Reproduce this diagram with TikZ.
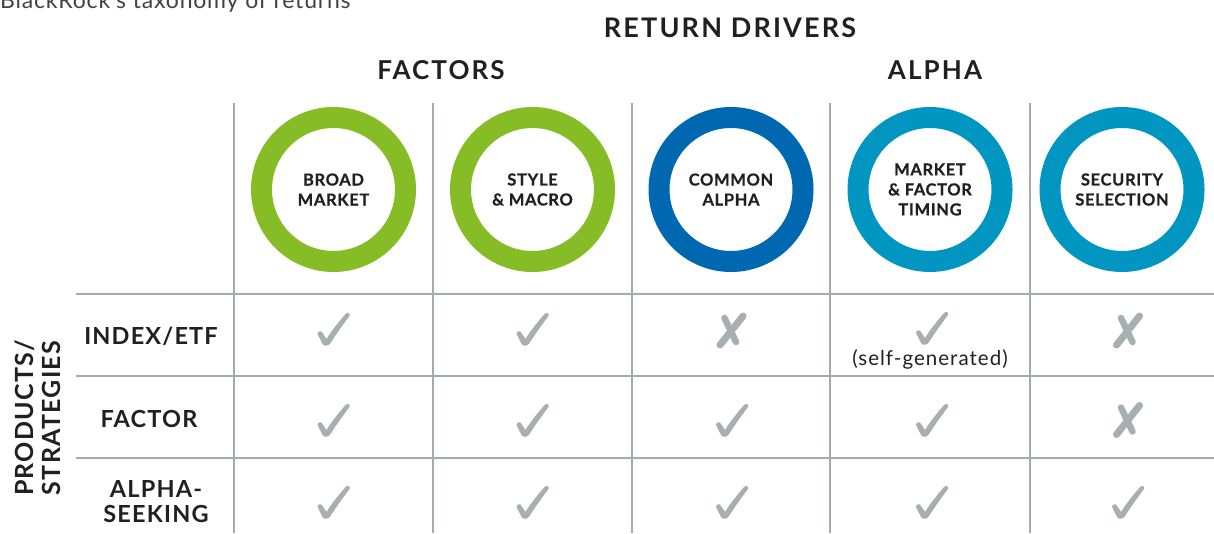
\documentclass[tikz,border=0pt]{standalone}
\usepackage{fontspec}
\setmainfont{Lato}
\definecolor{brgreen}{HTML}{86BC25}
\definecolor{brdblue}{HTML}{0067B1}
\definecolor{brlblue}{HTML}{0096C1}
\definecolor{ckgray}{HTML}{A8AFB3}
\definecolor{lngray}{HTML}{A5ABB0}
\definecolor{txt}{HTML}{231F20}
\tikzset{
  ring/.style={line width=21pt},
  grid/.style={draw=lngray, line width=1.1pt},
  head/.style={text=txt, font=\fontsize{26}{30}\selectfont\bfseries\addfontfeature{LetterSpace=8}, inner sep=0pt},
  circlab/.style={text=txt, font=\fontsize{16.5}{20}\selectfont\bfseries\addfontfeature{LetterSpace=4,FakeBold=0.6}, align=center, inner sep=0pt},
  rowlab/.style={text=txt, font=\fontsize{23.5}{25}\selectfont\bfseries\addfontfeature{LetterSpace=5}, align=center, inner sep=0pt},
  chk/.pic={\fill[ckgray] (-16,5) .. controls (-16,2) and (-12,1) .. (-11,4) -- (-7,10) .. controls (-1,0) and (7,-9) .. (12,-15) .. controls (14,-17) and (17,-16) .. (16,-13) .. controls (10,-5) and (2,6) .. (-3,14) .. controls (-5,17) and (-9,18) .. (-11,15) -- cycle;},
  crs/.pic={\draw[ckgray, line width=7pt, line cap=round] (-11.5,14.5) -- (11.5,-14.5);
            \draw[ckgray, line width=6.5pt, line cap=round] (-7,-12.5) -- (4.5,11.5);}
}
\begin{document}
\begin{tikzpicture}[x=1pt,y=-1pt]
\useasboundingbox (0,0) rectangle (1214,533);
% caption
\node[anchor=base west, inner sep=0pt, text=txt!85, font=\fontsize{23}{26}\selectfont\addfontfeature{LetterSpace=3.5}] (cap) at (0,8) {BlackRock's taxonomy of returns};
% headers
\node[head, font=\fontsize{27}{30}\selectfont\bfseries\addfontfeature{LetterSpace=8}] (rd) at (730,27.5) {RETURN DRIVERS};
\node[head] (fac) at (441,70.5) {FACTORS};
\node[head] (alp) at (935,70.5) {ALPHA};
% grid
\foreach \x in {234,433,632,830,1030} \draw[grid] (\x,103) -- (\x,533);
\foreach \y in {294,376,458} \draw[grid] (76,\y) -- (1214,\y);
% rings
\draw[ring, brgreen] (333.5,189.5) circle[radius=72];
\draw[ring, brgreen] (532.5,189.5) circle[radius=72];
\draw[ring, brdblue] (731,189.5) circle[radius=72];
\draw[ring, brlblue] (930,189.5) circle[radius=72];
\draw[ring, brlblue] (1122,189.5) circle[radius=72];
\node[circlab] (c1) at (333.5,189.5) {BROAD\\MARKET};
\node[circlab] (c2) at (532.5,189.5) {STYLE\\\& MACRO};
\node[circlab] (c3) at (731,189.5) {COMMON\\ALPHA};
\node[circlab] (c4) at (930,189.5) {MARKET\\\& FACTOR\\TIMING};
\node[circlab] (c5) at (1122,189.5) {SECURITY\\SELECTION};
% row labels
\node[rowlab] (r1) at (151,336) {INDEX/ETF};
\node[rowlab] (r2) at (149,419) {FACTOR};
\node[rowlab] (r3) at (156,502) {ALPHA-\\SEEKING};
\node[rowlab, font=\fontsize{25}{27.5}\selectfont\bfseries\addfontfeature{LetterSpace=5}, rotate=90] (ps) at (38,418) {PRODUCTS/\\STRATEGIES};
% marks
\pic at (333.5,329) {chk}; \pic at (532.5,329) {chk}; \pic at (731.5,330.5) {crs}; \pic at (932,328) {chk}; \pic at (1128,330.5) {crs};
\pic at (333.5,420) {chk}; \pic at (532.5,420) {chk}; \pic at (732,420) {chk}; \pic at (932,420) {chk}; \pic at (1128,420) {crs};
\pic at (333.5,502) {chk}; \pic at (532.5,502) {chk}; \pic at (732,502) {chk}; \pic at (932,502) {chk}; \pic at (1128,502) {chk};
\node[text=txt, inner sep=0pt, font=\fontsize{20.5}{22}\selectfont\addfontfeature{LetterSpace=5}] (sg) at (930,359) {(self-generated)};
\end{tikzpicture}
\end{document}
